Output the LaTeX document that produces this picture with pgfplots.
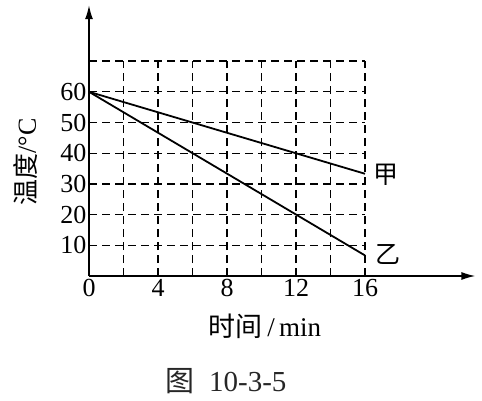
\documentclass[border=0pt]{standalone}
\usepackage{fontspec}
\setmainfont{Liberation Serif}
\newfontfamily\cjk{Noto Sans CJK SC}
\usepackage{pgfplots}
\pgfplotsset{compat=1.18}
\usetikzlibrary{arrows.meta}

\begin{document}
\begin{tikzpicture}[x=1pt,y=1pt]
\useasboundingbox (0,0) rectangle (482,400);
\begin{axis}[
  at={(89pt,124pt)}, anchor=south west,
  x=17.25pt, y=3.07pt,
  xmin=0, xmax=22.4, ymin=0, ymax=88.2,
  axis lines=left,
  axis line style={line width=1.5pt},
  x axis line style={-{Latex[length=14pt,width=8pt]}},
  y axis line style={-{Latex[length=14pt,width=8pt]}},
  xtick={0,4,8,12,16}, ytick={10,20,...,60},
  major tick length=0pt,
  tick label style={font=\fontsize{26}{28}\selectfont},
  /pgf/number format/assume math mode=true,
  xticklabel style={yshift=0pt},
  yticklabel style={xshift=1pt},
  clip=false,
]
% dashed grid, 0..16 by 0..70
\pgfplotsinvokeforeach{2,4,...,16}{
  \draw[line width=1.3pt, dash pattern=on 8pt off 5pt] (axis cs:#1,0) -- (axis cs:#1,70);
}
\pgfplotsinvokeforeach{10,20,...,70}{
  \draw[line width=1.3pt, dash pattern=on 8pt off 5pt] (axis cs:0,#1) -- (axis cs:16,#1);
}
\addplot[black, line width=1.8pt] coordinates {(0,60) (16,33.3)};
\addplot[black, line width=1.8pt] coordinates {(0,60) (16,6.7)};
\end{axis}
\node[font=\cjk\fontsize{25}{27}\selectfont] at (386,225) {甲};
\node[font=\cjk\fontsize{25}{27}\selectfont] at (388,146) {乙};
\node[font=\fontsize{27}{29}\selectfont] at (265,74) {{\cjk 时间}\,/\,min};
\node[font=\fontsize{26}{28}\selectfont, rotate=90] at (26,238) {{\cjk 温度}/°C};
\node[font=\fontsize{29}{31}\selectfont, text=black!85] at (226,19) {{\cjk 图}\ \ 10-3-5};
\end{tikzpicture}
\end{document}
